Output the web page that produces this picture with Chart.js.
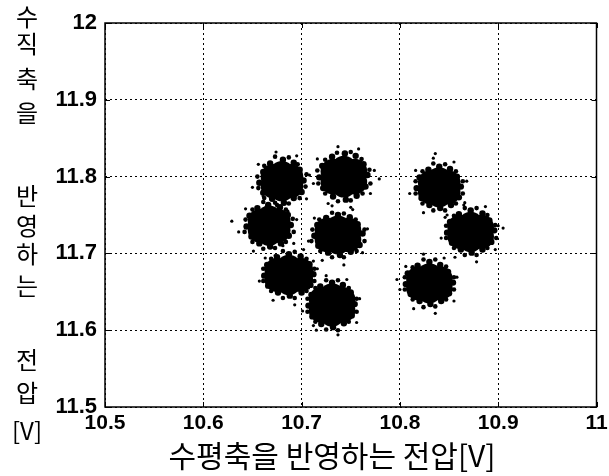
<!DOCTYPE html>
<html>
<head>
<meta charset="utf-8">
<title>Scatter clusters</title>
<script src="https://cdn.jsdelivr.net/npm/chart.js@4/dist/chart.umd.min.js"></script>
<style>
    body { margin: 0; background: #fff; }
    #wrap { width: 609px; height: 476px; }
</style>
</head>
<body>
<div id="wrap"><canvas id="scatterChart" width="609" height="476"></canvas></div>
<script>
// --- Data ---
const xTicks = [10.5, 10.6, 10.7, 10.8, 10.9, 11];
const yTicks = [11.5, 11.6, 11.7, 11.8, 11.9, 12];

const xTitle = '수평축을 반영하는 전압[V]';
const yTitleChars = ['수', '직', '축', '을', '반', '영', '하', '는', '전', '압', '[V]'];

// dense middle of each cloud
const clusterCore = [
    [10.671,11.800],[10.689,11.800],[10.671,11.788],[10.689,11.788],[10.680,11.804],[10.680,11.784],
    [10.732,11.807],[10.754,11.807],[10.732,11.793],[10.754,11.793],[10.743,11.811],[10.743,11.789],
    [10.658,11.742],[10.676,11.742],[10.658,11.730],[10.676,11.730],[10.667,11.746],[10.667,11.726],
    [10.726,11.730],[10.748,11.730],[10.726,11.718],[10.748,11.718],[10.737,11.733],[10.737,11.715],
    [10.675,11.678],[10.699,11.678],[10.675,11.666],[10.699,11.666],[10.687,11.682],[10.687,11.662],
    [10.720,11.640],[10.742,11.640],[10.720,11.626],[10.742,11.626],[10.731,11.645],[10.731,11.621],
    [10.831,11.792],[10.849,11.792],[10.831,11.780],[10.849,11.780],[10.840,11.796],[10.840,11.776],
    [10.861,11.734],[10.883,11.734],[10.861,11.722],[10.883,11.722],[10.872,11.738],[10.872,11.718],
    [10.819,11.667],[10.841,11.667],[10.819,11.655],[10.841,11.655],[10.830,11.671],[10.830,11.651]
];

// rim of each cloud
const clusterEdge = [
    [10.702,11.795],[10.698,11.809],[10.692,11.818],[10.681,11.822],[10.668,11.817],[10.661,11.806],
    [10.657,11.792],[10.661,11.779],[10.670,11.771],[10.682,11.766],[10.692,11.772],[10.700,11.780],
    [10.767,11.802],[10.763,11.816],[10.755,11.827],[10.744,11.830],[10.731,11.826],[10.721,11.814],
    [10.718,11.799],[10.722,11.785],[10.732,11.774],[10.745,11.770],[10.756,11.775],[10.765,11.787],
    [10.689,11.737],[10.686,11.750],[10.678,11.760],[10.666,11.763],[10.655,11.759],[10.647,11.749],
    [10.644,11.735],[10.649,11.722],[10.657,11.713],[10.668,11.709],[10.679,11.713],[10.687,11.723],
    [10.762,11.726],[10.757,11.738],[10.749,11.747],[10.737,11.750],[10.725,11.746],[10.716,11.737],
    [10.713,11.723],[10.717,11.710],[10.727,11.701],[10.739,11.698],[10.750,11.702],[10.759,11.711],
    [10.712,11.673],[10.708,11.686],[10.699,11.696],[10.687,11.699],[10.675,11.695],[10.665,11.685],
    [10.662,11.671],[10.666,11.658],[10.676,11.649],[10.688,11.645],[10.700,11.649],[10.709,11.659],
    [10.754,11.634],[10.750,11.649],[10.742,11.659],[10.731,11.662],[10.719,11.657],[10.710,11.646],
    [10.707,11.632],[10.711,11.618],[10.720,11.608],[10.732,11.604],[10.743,11.609],[10.751,11.619],
    [10.862,11.787],[10.858,11.800],[10.851,11.810],[10.840,11.813],[10.829,11.809],[10.820,11.799],
    [10.817,11.785],[10.822,11.772],[10.830,11.763],[10.841,11.759],[10.852,11.763],[10.860,11.773],
    [10.896,11.730],[10.891,11.743],[10.884,11.752],[10.872,11.756],[10.860,11.751],[10.851,11.741],
    [10.848,11.727],[10.853,11.714],[10.862,11.705],[10.873,11.701],[10.884,11.705],[10.893,11.715],
    [10.854,11.662],[10.849,11.676],[10.841,11.685],[10.830,11.689],[10.818,11.684],[10.808,11.674],
    [10.806,11.660],[10.811,11.647],[10.820,11.638],[10.831,11.634],[10.842,11.638],[10.850,11.648]
];

// fuzzy outer ring of each cloud
const clusterFuzz = [
    [10.705,11.803],[10.696,11.816],[10.687,11.825],[10.673,11.826],[10.662,11.814],[10.655,11.800],
    [10.656,11.785],[10.662,11.772],[10.675,11.763],[10.687,11.765],[10.698,11.772],[10.704,11.787],
    [10.769,11.809],[10.761,11.823],[10.750,11.832],[10.736,11.831],[10.724,11.822],[10.716,11.808],
    [10.717,11.791],[10.724,11.778],[10.737,11.768],[10.750,11.769],[10.762,11.778],[10.770,11.791],
    [10.691,11.745],[10.684,11.757],[10.673,11.766],[10.661,11.767],[10.650,11.757],[10.643,11.744],
    [10.642,11.728],[10.650,11.715],[10.661,11.706],[10.673,11.707],[10.684,11.715],[10.692,11.728],
    [10.764,11.731],[10.755,11.744],[10.743,11.752],[10.731,11.753],[10.718,11.744],[10.711,11.731],
    [10.710,11.716],[10.719,11.703],[10.731,11.695],[10.743,11.695],[10.756,11.703],[10.764,11.716],
    [10.713,11.680],[10.705,11.693],[10.693,11.702],[10.681,11.703],[10.669,11.693],[10.661,11.680],
    [10.661,11.664],[10.669,11.651],[10.681,11.642],[10.693,11.642],[10.705,11.651],[10.713,11.664],
    [10.756,11.641],[10.748,11.655],[10.737,11.665],[10.725,11.665],[10.714,11.655],[10.706,11.641],
    [10.706,11.624],[10.714,11.611],[10.725,11.601],[10.737,11.600],[10.748,11.611],[10.756,11.624],
    [10.864,11.794],[10.857,11.807],[10.846,11.816],[10.834,11.817],[10.823,11.807],[10.816,11.794],
    [10.816,11.778],[10.823,11.765],[10.834,11.756],[10.846,11.756],[10.857,11.765],[10.864,11.778],
    [10.897,11.737],[10.889,11.750],[10.878,11.759],[10.866,11.759],[10.855,11.749],[10.847,11.736],
    [10.847,11.720],[10.855,11.707],[10.866,11.698],[10.878,11.698],[10.889,11.707],[10.898,11.720],
    [10.855,11.669],[10.847,11.683],[10.836,11.692],[10.824,11.692],[10.813,11.682],[10.805,11.669],
    [10.805,11.653],[10.813,11.640],[10.824,11.630],[10.836,11.631],[10.847,11.640],[10.855,11.653]
];

// loose single samples around the clouds
const straySamples = [
    [10.708,11.802],[10.695,11.827],[10.674,11.832],[10.656,11.816],[10.650,11.786],[10.664,11.761],[10.686,11.755],[10.705,11.771],
    [10.774,11.808],[10.758,11.836],[10.737,11.839],[10.716,11.823],[10.712,11.791],[10.727,11.765],[10.750,11.760],[10.770,11.778],[10.779,11.797],
    [10.695,11.744],[10.682,11.770],[10.661,11.774],[10.643,11.758],[10.636,11.728],[10.651,11.703],[10.673,11.697],[10.692,11.713],[10.629,11.742],
    [10.767,11.732],[10.752,11.757],[10.731,11.762],[10.713,11.746],[10.707,11.716],[10.721,11.691],[10.743,11.685],[10.762,11.701],
    [10.716,11.680],[10.702,11.705],[10.681,11.710],[10.663,11.694],[10.657,11.664],[10.671,11.639],[10.693,11.633],[10.712,11.649],[10.712,11.690],
    [10.759,11.641],[10.746,11.666],[10.725,11.671],[10.707,11.655],[10.701,11.625],[10.715,11.600],[10.737,11.594],[10.756,11.610],[10.712,11.606],
    [10.868,11.794],[10.855,11.819],[10.834,11.824],[10.816,11.808],[10.810,11.778],[10.824,11.753],[10.846,11.747],[10.865,11.763],[10.836,11.830],
    [10.900,11.736],[10.887,11.761],[10.866,11.766],[10.848,11.750],[10.842,11.720],[10.856,11.695],[10.878,11.689],[10.897,11.705],[10.905,11.733],
    [10.858,11.669],[10.845,11.694],[10.824,11.699],[10.806,11.683],[10.800,11.653],[10.814,11.628],[10.836,11.622],[10.855,11.638],[10.797,11.666]
];

// --- Helpers ---
const toPoints = (list) => list.map(p => ({ x: p[0], y: p[1] }));

function dotSet(list, radius) {
    return {
        data: toPoints(list),
        pointRadius: radius,
        pointHoverRadius: radius,
        pointBorderWidth: 0,
        pointBackgroundColor: '#000',
        showLine: false
    };
}

// --- Frame, inward ticks and the two Korean axis titles ---
const framePlugin = {
    id: 'framePlugin',
    afterDraw(chart) {
        const { ctx, chartArea: a, scales } = chart;
        ctx.save();
        ctx.strokeStyle = '#000';
        ctx.lineWidth = 1.5;
        ctx.strokeRect(a.left, a.top, a.right - a.left, a.bottom - a.top);

        ctx.lineWidth = 1;
        ctx.beginPath();
        xTicks.forEach(v => {
            const px = Math.round(scales.x.getPixelForValue(v)) + 0.5;
            ctx.moveTo(px, a.bottom); ctx.lineTo(px, a.bottom - 5);
            ctx.moveTo(px, a.top); ctx.lineTo(px, a.top + 5);
        });
        yTicks.forEach(v => {
            const py = Math.round(scales.y.getPixelForValue(v)) + 0.5;
            ctx.moveTo(a.left, py); ctx.lineTo(a.left + 5, py);
            ctx.moveTo(a.right, py); ctx.lineTo(a.right - 5, py);
        });
        ctx.stroke();

        ctx.fillStyle = '#000';
        ctx.textAlign = 'center';
        ctx.textBaseline = 'middle';

        // x title
        ctx.font = '30px "Noto Sans CJK KR"';
        ctx.fillText(xTitle, 332, 456);

        // y title, one syllable per row
        const rowY = [17, 44, 79, 113, 196, 226, 254, 286, 360, 393, 431];
        ctx.font = '24px "Noto Sans CJK KR"';
        yTitleChars.forEach((ch, i) => ctx.fillText(ch, 27, rowY[i]));
        ctx.restore();
    }
};

// --- Chart ---
Chart.defaults.font.family = '"Liberation Sans", Arial, sans-serif';
Chart.defaults.color = '#000';

const ctx = document.getElementById('scatterChart').getContext('2d');
new Chart(ctx, {
    type: 'scatter',
    data: {
        datasets: [
            dotSet(straySamples, 1.6),
            dotSet(clusterFuzz, 2.3),
            dotSet(clusterEdge, 3.2),
            dotSet(clusterCore, 12.5)
        ]
    },
    options: {
        responsive: false,
        animation: false,
        events: [],
        layout: { padding: { left: 0, right: 9, top: 23, bottom: 0 } },
        plugins: {
            legend: { display: false },
            tooltip: { enabled: false }
        },
        scales: {
            x: {
                type: 'linear',
                min: 10.5,
                max: 11,
                afterBuildTicks: (scale) => { scale.ticks = xTicks.map(v => ({ value: v })); },
                afterFit: (scale) => { scale.height = 69; scale.paddingLeft = 0; scale.paddingRight = 0; },
                ticks: {
                    padding: 4,
                    maxRotation: 0,
                    font: { size: 21, weight: 'bold' },
                    callback: (v) => String(v)
                },
                grid: { color: '#000', lineWidth: 1, drawTicks: false },
                border: { display: false, dash: [2, 3] }
            },
            y: {
                type: 'linear',
                min: 11.5,
                max: 12,
                afterBuildTicks: (scale) => { scale.ticks = yTicks.map(v => ({ value: v })); },
                afterFit: (scale) => { scale.width = 105; scale.paddingTop = 0; scale.paddingBottom = 0; },
                ticks: {
                    padding: 8,
                    font: { size: 22, weight: 'bold' },
                    callback: (v) => String(v)
                },
                grid: { color: '#000', lineWidth: 1, drawTicks: false },
                border: { display: false, dash: [2, 3] }
            }
        }
    },
    plugins: [framePlugin]
});
</script>
</body>
</html>
